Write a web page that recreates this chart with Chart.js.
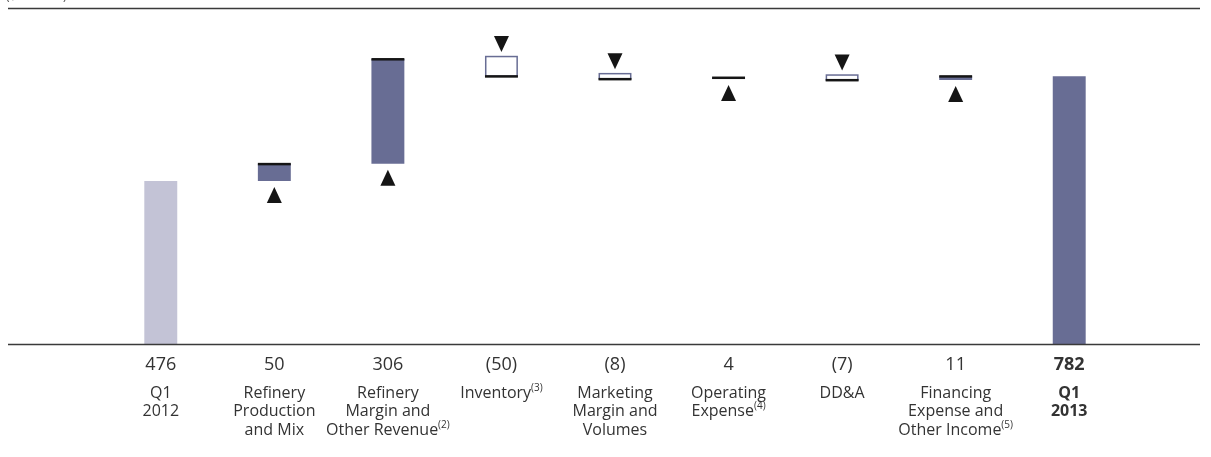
<!DOCTYPE html>
<html>
<head>
<meta charset="utf-8">
<script src="https://cdn.jsdelivr.net/npm/chart.js@4.4.0/dist/chart.umd.min.js"></script>
<style>
  html, body { margin: 0; padding: 0; background: #fff; }
  #wrap { width: 1211px; height: 457px; position: relative; }
</style>
</head>
<body>
<div id="wrap"><canvas id="bridge"></canvas></div>
<script>
// ==== Data ====
const categories = [
  ["Q1", "2012"],
  ["Refinery", "Production", "and Mix"],
  ["Refinery", "Margin and", "Other Revenue"],
  ["Inventory"],
  ["Marketing", "Margin and", "Volumes"],
  ["Operating", "Expense"],
  ["DD&A"],
  ["Financing", "Expense and", "Other Income"],
  ["Q1", "2013"]
];
const footnotes = [null, null, "(2)", "(3)", null, "(4)", null, "(5)", null];
const valueLabels = ["476", "50", "306", "(50)", "(8)", "4", "(7)", "11", "782"];
const changes = [476, 50, 306, -50, -8, 4, -7, 11, 782];
const isTotal = [true, false, false, false, false, false, false, false, true];

// ==== Build floating ranges ====
let running = 0;
const ranges = changes.map((v, i) => {
  if (isTotal[i]) { running = v; return [0, v]; }
  const start = running;
  running += v;
  return [start, running];
});

const BLUE = "#686d94";
const LIGHT = "#c3c3d6";
const INK = "#151515";
const TEXT = "#333333";
const FONT = "'Open Sans'";

const fillColors = changes.map((v, i) => {
  if (i === 0) return LIGHT;
  if (isTotal[i]) return BLUE;
  return v >= 0 ? BLUE : "#ffffff";
});

// ==== Plugin: rules, edge lines, arrows, labels ====
const bridgePlugin = {
  id: "bridge",
  afterDatasetsDraw(chart) {
    const ctx = chart.ctx;
    const meta = chart.getDatasetMeta(0);
    const yScale = chart.scales.y;
    ctx.save();

    // top rule + baseline
    ctx.strokeStyle = "#3a3a3a";
    ctx.lineWidth = 1.3;
    ctx.beginPath();
    ctx.moveTo(8, 8.5); ctx.lineTo(1200, 8.5);
    const y0 = Math.round(yScale.getPixelForValue(0)) + 0.5;
    ctx.moveTo(8, y0); ctx.lineTo(1200, y0);
    ctx.stroke();

    meta.data.forEach((bar, i) => {
      if (isTotal[i]) return;
      const top = Math.min(bar.y, bar.base);
      const bottom = Math.max(bar.y, bar.base);
      const left = bar.x - bar.width / 2;
      const w = bar.width;
      ctx.fillStyle = INK;
      if (changes[i] >= 0) {
        ctx.fillRect(left, top - 1, w, 2.5);
        // up arrow under the bar
        const ay = bottom + 6;
        ctx.beginPath();
        ctx.moveTo(bar.x, ay);
        ctx.lineTo(bar.x + 7.5, ay + 16);
        ctx.lineTo(bar.x - 7.5, ay + 16);
        ctx.closePath();
        ctx.fill();
      } else {
        // hollow box with blue outline, black bottom edge
        ctx.strokeStyle = BLUE;
        ctx.lineWidth = 1.5;
        ctx.strokeRect(left + 0.75, top - 2.5, w - 1.5, bottom - top + 2.5);
        ctx.fillRect(left, bottom - 1, w, 2.5);
        // down arrow above the bar
        const ay = top - 7;
        ctx.beginPath();
        ctx.moveTo(bar.x, ay);
        ctx.lineTo(bar.x + 7.5, ay - 16);
        ctx.lineTo(bar.x - 7.5, ay - 16);
        ctx.closePath();
        ctx.fill();
      }
    });

    // labels below the axis
    const xScale = chart.scales.x;
    ctx.fillStyle = TEXT;
    ctx.textAlign = "center";
    ctx.textBaseline = "middle";
    categories.forEach((lines, i) => {
      const x = xScale.getPixelForValue(i);
      const bold = i === categories.length - 1;
      const w = bold ? "bold " : "";
      ctx.font = w + "18px " + FONT;
      ctx.fillText(valueLabels[i], x, 365);
      ctx.font = w + "16px " + FONT;
      lines.forEach((line, j) => {
        const ly = 393 + j * 18.5;
        const isLast = j === lines.length - 1;
        if (isLast && footnotes[i]) {
          const mainW = ctx.measureText(line).width;
          ctx.font = "10px " + FONT;
          const supW = ctx.measureText(footnotes[i]).width;
          const startX = x - (mainW + supW) / 2;
          ctx.textAlign = "left";
          ctx.fillText(footnotes[i], startX + mainW, ly - 5);
          ctx.font = "16px " + FONT;
          ctx.fillText(line, startX, ly);
          ctx.textAlign = "center";
        } else {
          ctx.fillText(line, x, ly);
        }
      });
    });

    // clipped unit caption at the very top
    ctx.font = "12px " + FONT;
    ctx.textAlign = "left";
    ctx.textBaseline = "alphabetic";
    ctx.fillStyle = "#555";
    ctx.fillText("($ millions)", 6, 0);
    ctx.restore();
  }
};

// ==== Chart ====
new Chart(document.getElementById("bridge").getContext("2d"), {
  type: "bar",
  data: {
    labels: categories.map(c => c.join(" ")),
    datasets: [{
      data: ranges,
      backgroundColor: fillColors,
      borderWidth: 0,
      barPercentage: 0.29,
      categoryPercentage: 1
    }]
  },
  options: {
    responsive: true,
    maintainAspectRatio: false,
    animation: false,
    layout: { padding: { left: 104, right: 85, top: 20, bottom: 113 } },
    plugins: { legend: { display: false }, tooltip: { enabled: false } },
    scales: {
      x: { display: false },
      y: { display: false, min: 0, max: 946 }
    }
  },
  plugins: [bridgePlugin]
});
</script>
</body>
</html>
